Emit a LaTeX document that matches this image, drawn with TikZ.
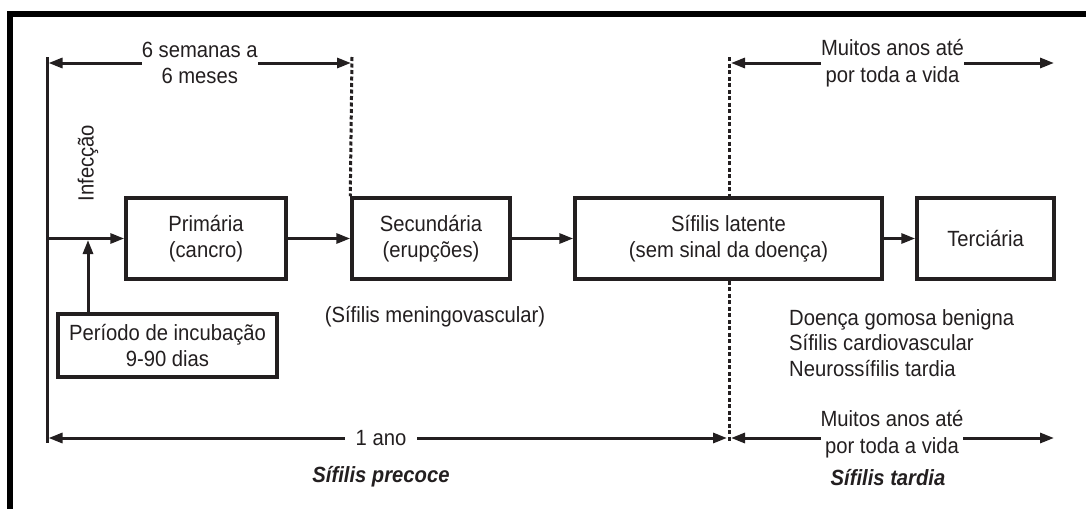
\documentclass[tikz,border=0pt]{standalone}
\usepackage{fontspec}
\setmainfont[FakeStretch=0.92]{Liberation Sans}
\usetikzlibrary{arrows.meta}
\definecolor{ink}{RGB}{35,31,32}
\begin{document}
\begin{tikzpicture}[x=1pt,y=-1pt,
  font=\fontsize{22}{26.5}\selectfont,
  box/.style={draw=ink, line width=3.5pt, inner sep=0pt, align=center, text=ink},
  conn/.style={draw=ink, line width=3pt, -{Triangle[length=14pt,width=10pt]}},
  span/.style={draw=ink, line width=3pt, {Triangle[length=14pt,width=10pt]}-{Triangle[length=14pt,width=10pt]}},
  guide/.style={draw=ink, line width=3pt, dash pattern=on 4pt off 2.5pt},
  rule/.style={draw=ink, line width=3pt},
  lbl/.style={text=ink, align=center, inner sep=0pt},
  head/.style={lbl, font=\fontsize{22}{26.5}\selectfont\bfseries\itshape}]
\useasboundingbox (0,0) rectangle (1086,509);
\fill[white] (0,0) rectangle (1086,509);
% frame
\draw[line width=5.5pt, draw=black] (1086,14) -- (10,14) -- (10,509);

% boxes
\node[box, minimum width=160pt, minimum height=81pt] (prim) at (206,238.5) {Primária\\(cancro)};
\node[box, minimum width=158pt, minimum height=81pt] (sec) at (431,238.5) {Secundária\\(erupções)};
\node[box, minimum width=307pt, minimum height=81pt] (lat) at (728.5,238.5) {Sífilis latente\\(sem sinal da doença)};
\node[box, minimum width=137pt, minimum height=81pt] (ter) at (985.5,238.5) {Terciária};
\node[box, minimum width=219pt, minimum height=63pt] (inc) at (167.5,345.5) {Período de incubação\\9-90 dias};

% coordinates
\coordinate (tlT) at (47,57);
\coordinate (tlB) at (47,443);
\coordinate (tlM) at (47,238.5);
\coordinate (hit) at (88,240);
\coordinate (d1T) at (352,57);
\coordinate (d2T) at (729,57);
\coordinate (d2B) at (729,443);
\coordinate (s1L) at (48.5,63);
\coordinate (s1R) at (351,63);
\coordinate (s2L) at (731,63);
\coordinate (s2R) at (1054,63);
\coordinate (s3L) at (48.5,438);
\coordinate (s3R) at (727,438);
\coordinate (s4L) at (731,438);
\coordinate (s4R) at (1054,438);

% timeline
\draw[rule] (tlT) -- (tlB);
\draw[conn] (tlM) -- (prim.west);
\draw[conn] (prim.east) -- (sec.west);
\draw[conn] (sec.east) -- (lat.west);
\draw[conn] (lat.east) -- (ter.west);
\draw[conn] (inc.north -| hit) -- (hit);

% dotted guides
\draw[guide] (d1T) -- (sec.north west);
\draw[guide] (d2T) -- (lat.north -| d2T);
\draw[guide] (lat.south -| d2T) -- (d2B);

% spans
\draw[span] (s1L) -- (s1R) node[lbl, fill=white, midway] (t1) {6 semanas a\\6 meses};
\draw[span] (s2L) -- (s2R) node[lbl, fill=white, midway] (t2) {Muitos anos até\\por toda a vida};
\draw[span] (s3L) -- (s3R) node[lbl, fill=white, inner xsep=11pt, pos=0.49] (t3) {1 ano};
\draw[span] (s4L) -- (s4R);
\node[lbl, fill=white] (t4) at (892,434) {Muitos anos até\\por toda a vida};

% labels
\node[lbl, rotate=90] (infec) at (88,163) {Infecção};
\node[lbl] (menin) at (435,317) {(Sífilis meningovascular)};
\node[lbl, align=left, anchor=west, font=\fontsize{22}{25.5}\selectfont] (late) at (789,343) {Doença gomosa benigna\\Sífilis cardiovascular\\Neurossífilis tardia};
\node[head] (prec) at (381,477) {Sífilis precoce};
\node[head] (tard) at (888,478) {Sífilis tardia};
\end{tikzpicture}
\end{document}
